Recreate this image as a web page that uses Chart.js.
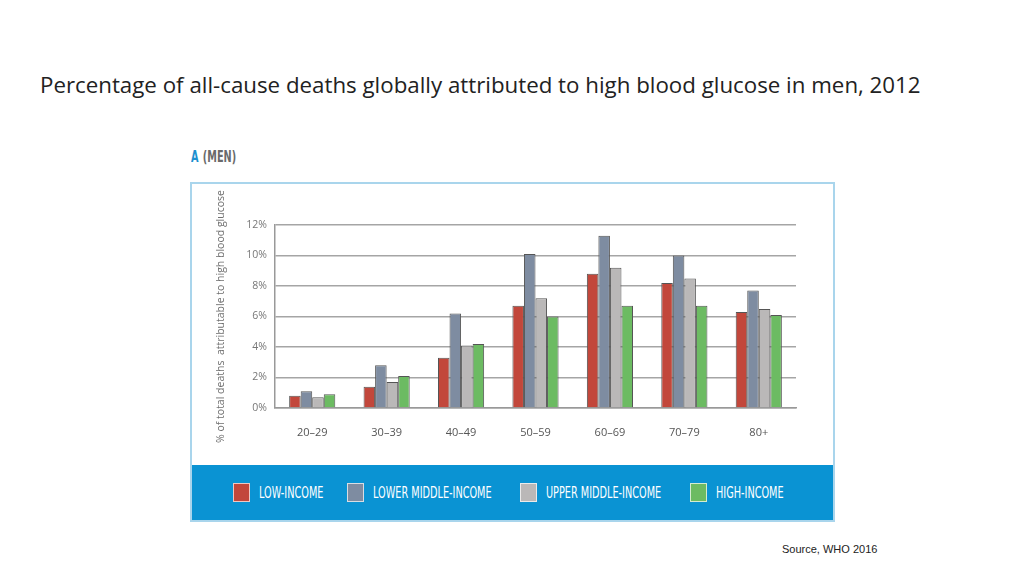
<!DOCTYPE html>
<html>
<head>
<meta charset="utf-8">
<script src="https://cdn.jsdelivr.net/npm/chart.js@4"></script>
<style>
  body { margin: 0; width: 1024px; height: 576px; background: #fff; position: relative; overflow: hidden; font-family: Lato, "Open Sans", sans-serif; }
  .title { position: absolute; left: 40px; top: 69px; font-family: "Open Sans", sans-serif; font-size: 22.3px; color: #222; white-space: nowrap; }
  .panel-tag { position: absolute; left: 191px; top: 148px; font-family: "DejaVu Sans Condensed", sans-serif; font-weight: bold; font-size: 15px; color: #6a6a6a; transform: scaleX(0.72); transform-origin: left; white-space: nowrap; }
  .panel-tag b { color: #1d8fcf; margin-right: 6px; }
  .box { position: absolute; left: 190px; top: 182px; width: 641px; height: 336px; border: 2px solid #a9d5ec; background: #fff; }
  .band { position: absolute; left: 0; top: 281px; width: 641px; height: 55px; background: #0a93d3; }
  .legend-item { position: absolute; top: 18px; display: flex; align-items: center; color: #fff; white-space: nowrap; }
  .legend-item span.sw { display: inline-block; width: 15px; height: 17px; border: 1px solid rgba(255,255,255,0.7); margin-right: 9px; }
  .legend-item span.txt { display: inline-block; font-family: "DejaVu Sans Condensed", sans-serif; font-size: 15px; transform: scaleX(0.72); transform-origin: left; }
  #wrap { position: absolute; left: 0; top: 0; width: 641px; height: 281px; }
  .source { position: absolute; left: 782px; top: 543px; font-family: "Liberation Sans", Arial, sans-serif; font-size: 11px; color: #222; }
</style>
</head>
<body>
<div class="title">Percentage of all-cause deaths globally attributed to high blood glucose in men, 2012</div>
<div class="panel-tag"><b>A</b>(MEN)</div>
<div class="box">
  <div id="wrap"><canvas id="chart"></canvas></div>
  <div class="band" id="band"></div>
</div>
<div class="source">Source, WHO 2016</div>
<script>
const ageGroups = ['20–29', '30–39', '40–49', '50–59', '60–69', '70–79', '80+'];
const seriesNames = ['LOW-INCOME', 'LOWER MIDDLE-INCOME', 'UPPER MIDDLE-INCOME', 'HIGH-INCOME'];
const lowIncome = [0.8, 1.4, 3.3, 6.7, 8.8, 8.2, 6.3];
const lowerMiddle = [1.1, 2.8, 6.2, 10.1, 11.3, 10.0, 7.7];
const upperMiddle = [0.7, 1.7, 4.1, 7.2, 9.2, 8.5, 6.5];
const highIncome = [0.9, 2.1, 4.2, 6.0, 6.7, 6.7, 6.1];
const yTicks = [0, 2, 4, 6, 8, 10, 12];

const colors = ['#c2473b', '#7e8ca1', '#bab8b8', '#6cbb62'];
const legendX = [41, 155, 328, 498];

const series = [lowIncome, lowerMiddle, upperMiddle, highIncome];

// legend lives in the blue band below the plot
const band = document.getElementById('band');
seriesNames.forEach((name, i) => {
  const item = document.createElement('div');
  item.className = 'legend-item';
  item.style.left = legendX[i] + 'px';
  item.innerHTML = `<span class="sw" style="background:${colors[i]}"></span><span class="txt">${name}</span>`;
  band.appendChild(item);
});

new Chart(document.getElementById('chart'), {
  type: 'bar',
  data: {
    labels: ageGroups,
    datasets: series.map((values, i) => ({
      label: seriesNames[i],
      data: values,
      backgroundColor: colors[i],
      borderColor: '#555',
      borderWidth: 1,
      borderSkipped: 'bottom',
      categoryPercentage: 0.62,
      barPercentage: 1.0
    }))
  },
  options: {
    responsive: true,
    maintainAspectRatio: false,
    animation: false,
    layout: { padding: { top: 41, right: 37, left: 23, bottom: 0 } },
    plugins: { legend: { display: false }, tooltip: { enabled: false } },
    scales: {
      x: {
        grid: { display: false, drawTicks: false },
        border: { color: '#999', width: 1.5 },
        ticks: { color: '#555', font: { family: 'Open Sans', size: 11 }, padding: 18 },
        afterFit: (scale) => { scale.height = 57; }
      },
      y: {
        min: 0,
        max: 12,
        afterBuildTicks: (scale) => { scale.ticks = yTicks.map(v => ({ value: v })); },
        grid: { color: '#a5a5a5', lineWidth: 1.5, drawTicks: false },
        border: { color: '#999', width: 1.5 },
        ticks: { color: '#777', font: { family: 'Open Sans', size: 10.5 }, padding: 8, callback: v => v + '%' },
        title: {
          display: true,
          text: '% of total deaths  attributable to high blood glucose',
          color: '#6f6f6f',
          font: { family: 'Open Sans', size: 10.5 },
          padding: { top: 0, bottom: 0 }
        },
        afterFit: (scale) => { scale.width = 60; }
      }
    }
  }
});
</script>
</body>
</html>
